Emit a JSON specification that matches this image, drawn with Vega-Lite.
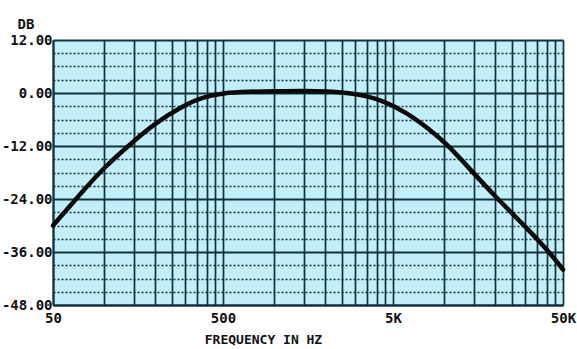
{
  "$schema": "https://vega.github.io/schema/vega-lite/v6.json",
  "width": 510,
  "height": 265,
  "autosize": {"type": "none"},
  "padding": {"left": 53, "top": 40, "right": 14, "bottom": 44},
  "background": "white",
  "config": {
    "view": {"fill": "#c2eef8", "stroke": null},
    "font": "DejaVu Sans Mono"
  },
  "data": {
    "values": [
      {"freq": 50, "db": -30.0},
      {"freq": 75, "db": -22.2},
      {"freq": 100, "db": -16.8},
      {"freq": 150, "db": -10.8},
      {"freq": 200, "db": -6.8},
      {"freq": 290, "db": -2.9},
      {"freq": 380, "db": -0.9},
      {"freq": 500, "db": 0.0},
      {"freq": 700, "db": 0.3},
      {"freq": 1000, "db": 0.4},
      {"freq": 1500, "db": 0.5},
      {"freq": 2000, "db": 0.4},
      {"freq": 2800, "db": 0.0},
      {"freq": 3500, "db": -0.7},
      {"freq": 4400, "db": -1.8},
      {"freq": 6000, "db": -4.4},
      {"freq": 8200, "db": -8.2},
      {"freq": 10400, "db": -11.6},
      {"freq": 14000, "db": -17.0},
      {"freq": 20000, "db": -23.5},
      {"freq": 29000, "db": -29.6},
      {"freq": 42000, "db": -36.2},
      {"freq": 50000, "db": -40.0}
    ]
  },
  "mark": {"type": "line", "color": "#0a0a0a", "strokeWidth": 4.5, "interpolate": "basis", "strokeCap": "round"},
  "encoding": {
    "x": {
      "field": "freq",
      "type": "quantitative",
      "scale": {"type": "log", "domain": [50, 50000], "nice": false},
      "axis": {
        "values": [50,100,150,200,250,300,350,400,450,500,1000,1500,2000,2500,3000,3500,4000,4500,5000,10000,15000,20000,25000,30000,35000,40000,45000,50000],
        "labelExpr": "datum.value == 50 ? '50' : datum.value == 500 ? '500' : datum.value == 5000 ? '5K' : datum.value == 50000 ? '50K' : ''",
        "labelOverlap": false,
        "labelFlush": false,
        "labelFont": "DejaVu Sans Mono",
        "labelFontWeight": "bold",
        "labelFontSize": 14,
        "labelColor": "#111111",
        "labelPadding": 6,
        "ticks": false,
        "domain": true,
        "domainColor": "#10303c",
        "domainWidth": 2,
        "grid": true,
        "gridColor": "#10303c",
        "gridWidth": 1.7,
        "gridOpacity": 1,
        "title": "FREQUENCY IN HZ",
        "titleFont": "DejaVu Sans Mono",
        "titleFontWeight": "bold",
        "titleFontSize": 13,
        "titleColor": "#111111",
        "titleX": 210,
        "titleY": 38,
        "titleBaseline": "alphabetic"
      }
    },
    "y": {
      "field": "db",
      "type": "quantitative",
      "scale": {"domain": [-48, 12], "nice": false, "zero": false},
      "axis": {
        "values": [-48,-45,-42,-39,-36,-33,-30,-27,-24,-21,-18,-15,-12,-9,-6,-3,0,3,6,9,12],
        "labelExpr": "datum.value % 12 == 0 ? (datum.value < 0 ? '-' + format(-datum.value, '.2f') : format(datum.value, '.2f')) : ''",
        "labelOverlap": false,
        "labelFont": "DejaVu Sans Mono",
        "labelFontWeight": "bold",
        "labelFontSize": 14,
        "labelColor": "#111111",
        "labelPadding": 1,
        "ticks": false,
        "domain": true,
        "domainColor": "#10303c",
        "domainWidth": 2,
        "grid": true,
        "gridColor": "#10303c",
        "gridOpacity": 1,
        "gridWidth": {"condition": {"test": "datum.value % 12 == 0", "value": 2}, "value": 1.5},
        "gridDash": {"condition": {"test": "datum.value % 12 == 0", "value": []}, "value": [2, 2]},
        "title": "DB",
        "titleAngle": 0,
        "titleAlign": "left",
        "titleX": -36,
        "titleY": -12,
        "titleBaseline": "alphabetic",
        "titleFont": "DejaVu Sans Mono",
        "titleFontWeight": "bold",
        "titleFontSize": 14,
        "titleColor": "#111111"
      }
    }
  }
}
